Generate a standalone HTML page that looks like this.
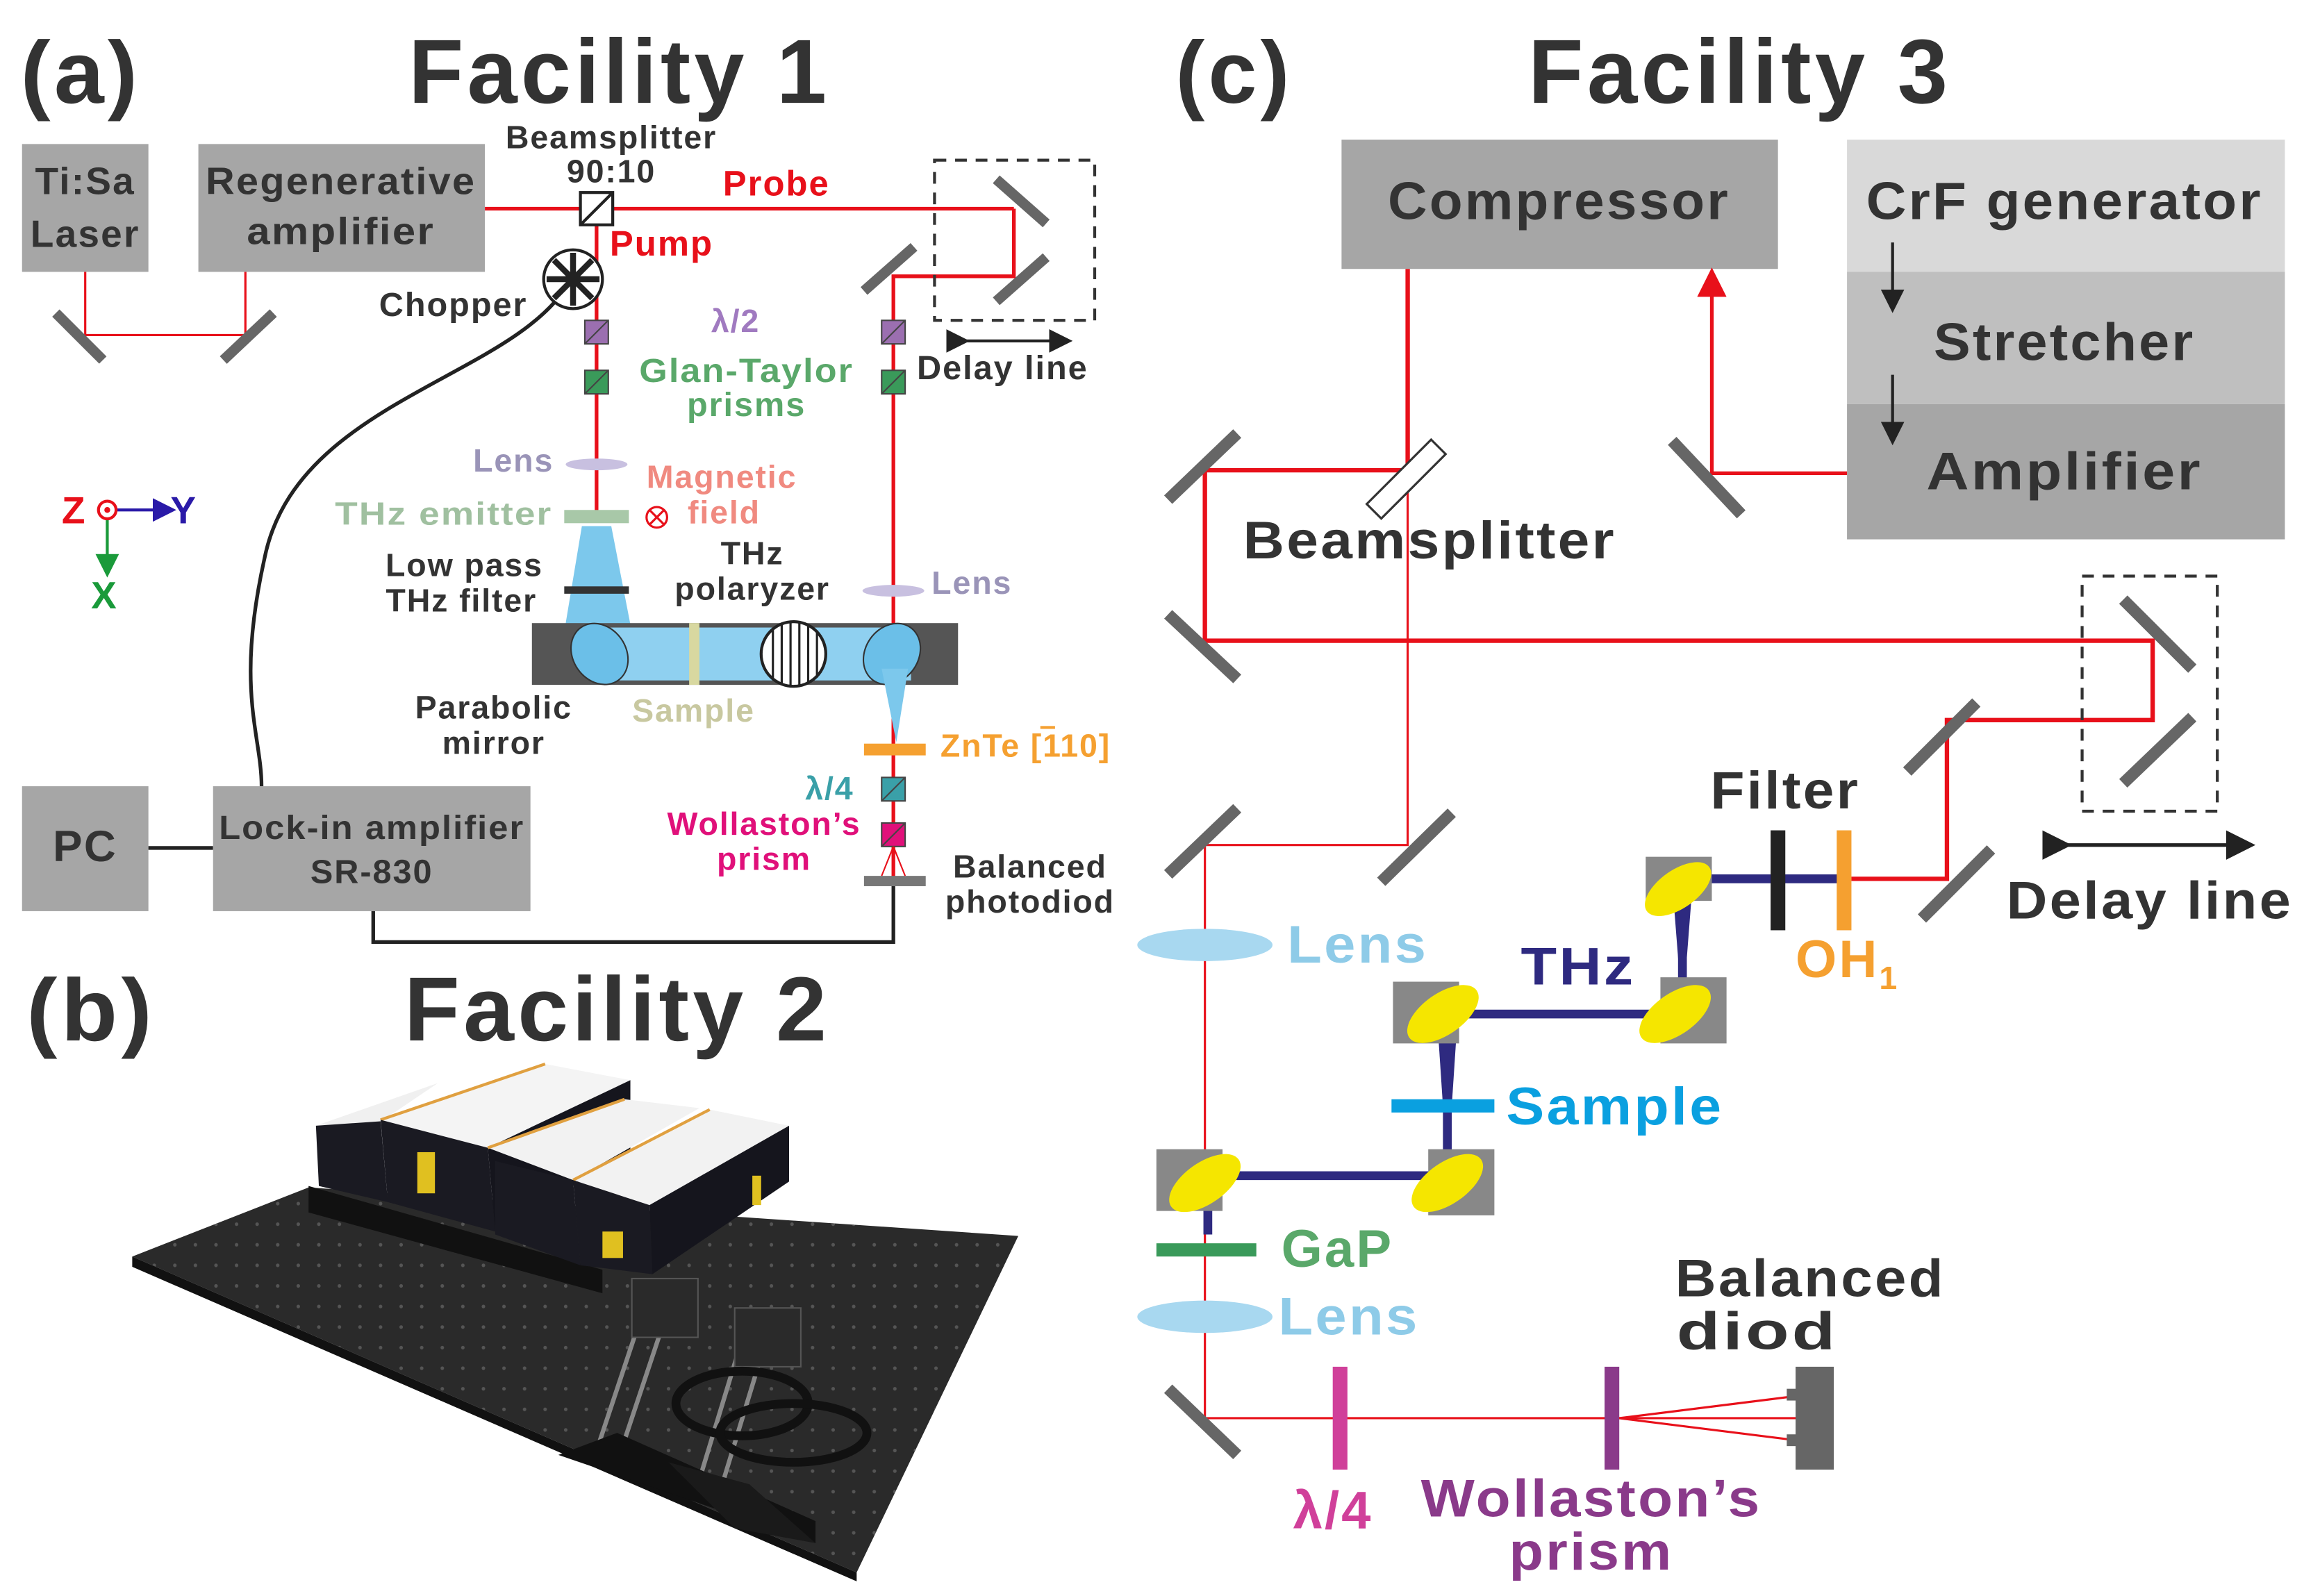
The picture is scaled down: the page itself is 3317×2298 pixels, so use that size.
<!DOCTYPE html>
<html><head><meta charset="utf-8"><style>
html,body{margin:0;padding:0;background:#fff}
svg{display:block}
text{font-family:"Liberation Sans","DejaVu Sans",sans-serif;font-weight:bold;letter-spacing:0.04em}
</style></head><body>
<svg width="3317" height="2298" viewBox="0 0 1568 1086" preserveAspectRatio="none" xmlns="http://www.w3.org/2000/svg">
<rect width="1568" height="1086" fill="#fff"/>
<defs>
<marker id="ar" markerWidth="8" markerHeight="8" refX="4" refY="4" orient="auto"><path d="M0,0 L8,4 L0,8 z" fill="#222"/></marker>
<marker id="arr" markerWidth="8" markerHeight="8" refX="4" refY="4" orient="auto"><path d="M0,0 L8,4 L0,8 z" fill="#e8101a"/></marker>
<marker id="arb" markerWidth="8" markerHeight="8" refX="4" refY="4" orient="auto"><path d="M0,0 L8,4 L0,8 z" fill="#2a1aa8"/></marker>
<marker id="arg" markerWidth="8" markerHeight="8" refX="4" refY="4" orient="auto"><path d="M0,0 L8,4 L0,8 z" fill="#1a9a3a"/></marker>
<pattern id="holes" width="14" height="14" patternUnits="userSpaceOnUse"><circle cx="7" cy="7" r="1.2" fill="#555"/></pattern>
</defs>

<!-- ===== Panel (a) ===== -->
<text x="14" y="70" font-size="60" fill="#333" textLength="82" lengthAdjust="spacingAndGlyphs">(a)</text>
<text x="278" y="70" font-size="62" fill="#333" textLength="287" lengthAdjust="spacingAndGlyphs">Facility 1</text>

<rect x="15" y="98" width="86" height="87" fill="#a6a6a6"/>
<text x="58" y="132" font-size="26" fill="#333" text-anchor="middle">Ti:Sa</text>
<text x="58" y="168" font-size="26" fill="#333" text-anchor="middle">Laser</text>
<rect x="135" y="98" width="195" height="87" fill="#a6a6a6"/>
<text x="232" y="132" font-size="26" fill="#333" text-anchor="middle" textLength="184" lengthAdjust="spacingAndGlyphs">Regenerative</text>
<text x="232" y="166" font-size="26" fill="#333" text-anchor="middle" textLength="128" lengthAdjust="spacingAndGlyphs">amplifier</text>

<polyline points="58,185 58,228 167,228 167,185" fill="none" stroke="#e8101a" stroke-width="1.5"/>
<line x1="38" y1="213" x2="70" y2="245" stroke="#666" stroke-width="7"/>
<line x1="152" y1="245" x2="186" y2="213" stroke="#666" stroke-width="7"/>

<line x1="330" y1="142" x2="690" y2="142" stroke="#e8101a" stroke-width="2.5"/>
<polyline points="690,142 690,188 608,188 608,600" fill="none" stroke="#e8101a" stroke-width="2.5"/>
<line x1="406" y1="142" x2="406" y2="350" stroke="#e8101a" stroke-width="2.5"/>
<rect x="395" y="131" width="22" height="22" fill="#fff" stroke="#222" stroke-width="2"/>
<line x1="395" y1="153" x2="417" y2="131" stroke="#222" stroke-width="2"/>
<text x="416" y="101" font-size="22" fill="#333" text-anchor="middle">Beamsplitter</text>
<text x="416" y="124" font-size="22" fill="#333" text-anchor="middle">90:10</text>
<text x="492" y="133" font-size="24" fill="#e8101a">Probe</text>
<text x="415" y="174" font-size="24" fill="#e8101a">Pump</text>

<rect x="636" y="109" width="109" height="109" fill="none" stroke="#333" stroke-width="2" stroke-dasharray="8,6"/>
<line x1="678" y1="122" x2="712" y2="152" stroke="#666" stroke-width="7"/>
<line x1="678" y1="205" x2="712" y2="175" stroke="#666" stroke-width="7"/>
<line x1="588" y1="198" x2="622" y2="168" stroke="#666" stroke-width="7"/>
<line x1="652" y1="232" x2="722" y2="232" stroke="#222" stroke-width="2" marker-start="url(#ar)" marker-end="url(#ar)"/>
<text x="624" y="258" font-size="23" fill="#333">Delay line</text>

<circle cx="390" cy="190" r="20" fill="#fff" stroke="#222" stroke-width="2"/>
<g stroke="#222" stroke-width="4">
<line x1="390" y1="172" x2="390" y2="208"/><line x1="372" y1="190" x2="408" y2="190"/>
<line x1="377" y1="177" x2="403" y2="203"/><line x1="403" y1="177" x2="377" y2="203"/>
</g>
<text x="258" y="215" font-size="23" fill="#333">Chopper</text>
<path d="M378,205 C330,260 200,280 180,380 C160,470 178,500 178,535" fill="none" stroke="#222" stroke-width="2.5"/>

<rect x="398" y="218" width="16" height="16" fill="#9b6fb0" stroke="#444"/><line x1="398" y1="234" x2="414" y2="218" stroke="#444"/>
<rect x="600" y="218" width="16" height="16" fill="#9b6fb0" stroke="#444"/><line x1="600" y1="234" x2="616" y2="218" stroke="#444"/>
<rect x="398" y="252" width="16" height="16" fill="#3a9a5a" stroke="#444"/><line x1="398" y1="268" x2="414" y2="252" stroke="#444"/>
<rect x="600" y="252" width="16" height="16" fill="#3a9a5a" stroke="#444"/><line x1="600" y1="268" x2="616" y2="252" stroke="#444"/>
<text x="484" y="226" font-size="22" fill="#a07ac0">λ/2</text>
<text x="508" y="260" font-size="23" fill="#5aa86a" text-anchor="middle" textLength="146" lengthAdjust="spacingAndGlyphs">Glan-Taylor</text>
<text x="508" y="283" font-size="23" fill="#5aa86a" text-anchor="middle">prisms</text>

<ellipse cx="406" cy="316" rx="21" ry="4" fill="#c8c0e0"/>
<text x="322" y="321" font-size="22" fill="#9a94b8">Lens</text>
<text x="440" y="332" font-size="22" fill="#f08a80">Magnetic</text>
<text x="468" y="356" font-size="22" fill="#f08a80">field</text>
<circle cx="447" cy="352" r="7" fill="#fff" stroke="#e8101a" stroke-width="1.5"/>
<line x1="442" y1="347" x2="452" y2="357" stroke="#e8101a" stroke-width="1.5"/><line x1="452" y1="347" x2="442" y2="357" stroke="#e8101a" stroke-width="1.5"/>
<rect x="384" y="347" width="44" height="9" fill="#a8c8a8"/>
<text x="228" y="357" font-size="22" fill="#a0c0a0" textLength="148" lengthAdjust="spacingAndGlyphs">THz emitter</text>

<line x1="73" y1="347" x2="112" y2="347" stroke="#2a1aa8" stroke-width="2" marker-end="url(#arb)"/>
<line x1="73" y1="347" x2="73" y2="385" stroke="#1a9a3a" stroke-width="2" marker-end="url(#arg)"/>
<circle cx="73" cy="347" r="6" fill="#fff" stroke="#e8101a" stroke-width="2"/><circle cx="73" cy="347" r="2" fill="#e8101a"/>
<text x="42" y="356" font-size="26" fill="#e8101a">Z</text>
<text x="116" y="356" font-size="26" fill="#2a1aa8">Y</text>
<text x="62" y="414" font-size="26" fill="#1a9a3a">X</text>

<polygon points="396,358 416,358 430,430 384,430" fill="#7cc8ec"/>
<rect x="384" y="399" width="44" height="5" fill="#333"/>
<text x="316" y="392" font-size="22" fill="#333" text-anchor="middle">Low pass</text>
<text x="314" y="416" font-size="22" fill="#333" text-anchor="middle">THz filter</text>
<rect x="362" y="424" width="290" height="42" fill="#555"/>
<rect x="405" y="427" width="215" height="36" fill="#8fd0f0"/>
<ellipse cx="408" cy="445" rx="18" ry="22" transform="rotate(-35 408 445)" fill="#6bbfe8" stroke="#333"/>
<ellipse cx="607" cy="445" rx="18" ry="22" transform="rotate(35 607 445)" fill="#6bbfe8" stroke="#333"/>
<polygon points="600,455 618,455 610,505" fill="#7cc8ec"/>
<rect x="469" y="424" width="7" height="42" fill="#d8d8a0"/>
<circle cx="540" cy="445" r="22" fill="#fff" stroke="#222" stroke-width="2"/>
<g stroke="#222" stroke-width="1.5"><line x1="526" y1="428" x2="526" y2="462"/><line x1="532" y1="424" x2="532" y2="466"/><line x1="538" y1="423" x2="538" y2="467"/><line x1="544" y1="423" x2="544" y2="467"/><line x1="550" y1="425" x2="550" y2="465"/><line x1="556" y1="429" x2="556" y2="461"/></g>
<text x="512" y="384" font-size="22" fill="#333" text-anchor="middle">THz</text>
<text x="512" y="408" font-size="22" fill="#333" text-anchor="middle">polaryzer</text>
<ellipse cx="608" cy="402" rx="21" ry="4" fill="#c8c0e0"/>
<text x="634" y="404" font-size="22" fill="#9a94b8">Lens</text>
<text x="336" y="489" font-size="22" fill="#333" text-anchor="middle">Parabolic</text>
<text x="336" y="513" font-size="22" fill="#333" text-anchor="middle">mirror</text>
<text x="472" y="491" font-size="22" fill="#c8c8a0" text-anchor="middle">Sample</text>

<rect x="588" y="506" width="42" height="8" fill="#f5a030"/>
<text x="640" y="515" font-size="22" fill="#f5a030">ZnTe [110]</text>
<line x1="708" y1="495" x2="718" y2="495" stroke="#f5a030" stroke-width="2"/>
<rect x="600" y="529" width="16" height="16" fill="#3aa0a8" stroke="#444"/><line x1="600" y1="545" x2="616" y2="529" stroke="#444"/>
<text x="548" y="544" font-size="22" fill="#3aa0a8">λ/4</text>
<rect x="600" y="560" width="16" height="16" fill="#e0107a" stroke="#444"/><line x1="600" y1="576" x2="616" y2="560" stroke="#444"/>
<text x="520" y="568" font-size="22" fill="#e0107a" text-anchor="middle">Wollaston’s</text>
<text x="520" y="592" font-size="22" fill="#e0107a" text-anchor="middle">prism</text>
<line x1="608" y1="576" x2="600" y2="596" stroke="#e8101a"/><line x1="608" y1="576" x2="616" y2="596" stroke="#e8101a"/>
<rect x="588" y="596" width="42" height="7" fill="#777"/>
<text x="701" y="597" font-size="22" fill="#333" text-anchor="middle">Balanced</text>
<text x="701" y="621" font-size="22" fill="#333" text-anchor="middle">photodiod</text>
<polyline points="608,603 608,641 254,641 254,620" fill="none" stroke="#222" stroke-width="2.5"/>

<rect x="15" y="535" width="86" height="85" fill="#a6a6a6"/>
<text x="58" y="586" font-size="30" fill="#333" text-anchor="middle">PC</text>
<line x1="101" y1="577" x2="145" y2="577" stroke="#222" stroke-width="2.5"/>
<rect x="145" y="535" width="216" height="85" fill="#a6a6a6"/>
<text x="253" y="571" font-size="23" fill="#333" text-anchor="middle" textLength="208" lengthAdjust="spacingAndGlyphs">Lock-in amplifier</text>
<text x="253" y="601" font-size="23" fill="#333" text-anchor="middle">SR-830</text>

<!-- ===== Panel (b) ===== -->
<text x="18" y="708" font-size="60" fill="#333" textLength="88" lengthAdjust="spacingAndGlyphs">(b)</text>
<text x="275" y="708" font-size="62" fill="#333" textLength="290" lengthAdjust="spacingAndGlyphs">Facility 2</text>
<polygon points="90,855 210,808 693,841 583,1070" fill="#2a2a2a"/>
<polygon points="90,855 210,808 693,841 583,1070" fill="url(#holes)"/>
<polygon points="90,855 583,1070 583,1076 90,862" fill="#111"/>
<polygon points="210,807 410,864 410,880 210,825" fill="#111"/>
<!-- box1 -->
<polygon points="215,766 298,737 264,760 259,763" fill="#f0f0f0"/>
<polygon points="215,766 259,763 264,818 217,807" fill="#1a1a22"/>
<!-- box2 -->
<polygon points="259,762 371,724 429,735 332,781" fill="#f4f4f4"/>
<line x1="259" y1="762" x2="371" y2="724" stroke="#e0a040" stroke-width="2"/>
<polygon points="259,762 332,781 337,838 264,818" fill="#1a1a22"/>
<polygon points="332,781 429,735 429,784 337,838" fill="#15151d"/>
<rect x="284" y="784" width="12" height="28" fill="#e0c020"/>
<!-- box3 -->
<polygon points="332,781 425,748 476,754 390,803" fill="#f2f2f2"/>
<line x1="332" y1="781" x2="425" y2="748" stroke="#e0a040" stroke-width="2"/>
<polygon points="337,790 390,803 395,861 337,840" fill="#1a1a22"/>
<!-- box4 -->
<polygon points="390,803 483,755 537,766 442,820" fill="#f2f2f2"/>
<line x1="390" y1="803" x2="483" y2="755" stroke="#e0a040" stroke-width="2"/>
<polygon points="390,803 442,820 444,867 395,861" fill="#1a1a22"/>
<polygon points="442,820 537,766 537,804 444,867" fill="#15151d"/>
<rect x="410" y="838" width="14" height="18" fill="#e0c020"/>
<rect x="512" y="800" width="6" height="20" fill="#e0c020"/>
<!-- optics -->
<g stroke="#888" stroke-width="3">
<line x1="405" y1="990" x2="445" y2="870"/><line x1="420" y1="995" x2="460" y2="875"/>
<line x1="475" y1="1010" x2="510" y2="895"/><line x1="490" y1="1015" x2="525" y2="900"/>
</g>
<rect x="430" y="870" width="45" height="40" fill="#2a2a2a" stroke="#555"/>
<rect x="500" y="890" width="45" height="40" fill="#2a2a2a" stroke="#555"/>
<ellipse cx="505" cy="955" rx="45" ry="22" fill="none" stroke="#111" stroke-width="6"/>
<ellipse cx="540" cy="975" rx="50" ry="20" fill="none" stroke="#111" stroke-width="6"/>
<polygon points="380,990 420,975 555,1035 555,1050" fill="#111"/>
<polygon points="455,995 510,1010 555,1050 500,1040" fill="#1a1a1a"/>

<!-- ===== Panel (c) ===== -->
<text x="800" y="70" font-size="60" fill="#333" textLength="80" lengthAdjust="spacingAndGlyphs">(c)</text>
<text x="1040" y="70" font-size="62" fill="#333" textLength="288" lengthAdjust="spacingAndGlyphs">Facility 3</text>

<rect x="913" y="95" width="297" height="88" fill="#a6a6a6"/>
<text x="1061" y="149" font-size="36" fill="#333" text-anchor="middle" textLength="233" lengthAdjust="spacingAndGlyphs">Compressor</text>
<rect x="1257" y="95" width="298" height="90" fill="#d9d9d9"/>
<rect x="1257" y="185" width="298" height="90" fill="#bfbfbf"/>
<rect x="1257" y="275" width="298" height="92" fill="#a6a6a6"/>
<text x="1405" y="149" font-size="36" fill="#333" text-anchor="middle" textLength="270" lengthAdjust="spacingAndGlyphs">CrF generator</text>
<text x="1405" y="245" font-size="36" fill="#333" text-anchor="middle" textLength="178" lengthAdjust="spacingAndGlyphs">Stretcher</text>
<text x="1405" y="333" font-size="36" fill="#333" text-anchor="middle" textLength="188" lengthAdjust="spacingAndGlyphs">Amplifier</text>
<line x1="1288" y1="165" x2="1288" y2="205" stroke="#222" stroke-width="2" marker-end="url(#ar)"/>
<line x1="1288" y1="255" x2="1288" y2="295" stroke="#222" stroke-width="2" marker-end="url(#ar)"/>

<polyline points="1257,322 1165,322 1165,192" fill="none" stroke="#e8101a" stroke-width="2.5" marker-end="url(#arr)"/>
<line x1="1138" y1="300" x2="1185" y2="350" stroke="#666" stroke-width="8"/>

<polyline points="958,183 958,320 820,320 820,436 1465,436 1465,490 1325,490 1325,598 1260,598" fill="none" stroke="#e8101a" stroke-width="3"/>
<line x1="795" y1="340" x2="842" y2="295" stroke="#666" stroke-width="8"/>
<line x1="795" y1="418" x2="842" y2="462" stroke="#666" stroke-width="8"/>
<rect x="1417" y="392" width="92" height="160" fill="none" stroke="#333" stroke-width="2" stroke-dasharray="8,6"/>
<line x1="1445" y1="408" x2="1492" y2="455" stroke="#666" stroke-width="8"/>
<line x1="1445" y1="533" x2="1492" y2="488" stroke="#666" stroke-width="8"/>
<line x1="1298" y1="525" x2="1345" y2="478" stroke="#666" stroke-width="8"/>
<line x1="1308" y1="625" x2="1355" y2="578" stroke="#666" stroke-width="8"/>
<line x1="1400" y1="575" x2="1525" y2="575" stroke="#222" stroke-width="2.5" marker-start="url(#ar)" marker-end="url(#ar)"/>
<text x="1463" y="625" font-size="36" fill="#333" text-anchor="middle" textLength="195" lengthAdjust="spacingAndGlyphs">Delay line</text>

<polyline points="958,330 958,575 820,575 820,965 1225,965" fill="none" stroke="#e8101a" stroke-width="1.5"/>
<rect x="950" y="295" width="14" height="62" fill="#fff" stroke="#333" stroke-width="1.5" transform="rotate(45 957 326)"/>
<text x="846" y="380" font-size="36" fill="#333" textLength="254" lengthAdjust="spacingAndGlyphs">Beamsplitter</text>
<line x1="795" y1="595" x2="842" y2="550" stroke="#666" stroke-width="8"/>
<line x1="940" y1="600" x2="988" y2="553" stroke="#666" stroke-width="8"/>
<line x1="795" y1="945" x2="842" y2="990" stroke="#666" stroke-width="8"/>

<polyline points="1255,598 1145,598 1145,690 985,690 985,800 822,800 822,840" fill="none" stroke="#2e2a80" stroke-width="6"/>
<polygon points="1138,600 1152,600 1145,690" fill="#2e2a80"/>
<polygon points="978,692 992,692 985,798" fill="#2e2a80"/>
<polygon points="815,802 829,802 822,840" fill="#2e2a80"/>
<g>
<rect x="1120" y="583" width="45" height="30" fill="#888"/><ellipse cx="1142" cy="605" rx="26" ry="13" transform="rotate(-35 1142 605)" fill="#f5e600"/>
<rect x="1130" y="665" width="45" height="45" fill="#888"/><ellipse cx="1140" cy="690" rx="28" ry="14" transform="rotate(-35 1140 690)" fill="#f5e600"/>
<rect x="948" y="668" width="45" height="42" fill="#888"/><ellipse cx="982" cy="690" rx="28" ry="14" transform="rotate(-35 982 690)" fill="#f5e600"/>
<rect x="972" y="782" width="45" height="45" fill="#888"/><ellipse cx="985" cy="805" rx="28" ry="14" transform="rotate(-35 985 805)" fill="#f5e600"/>
<rect x="787" y="782" width="45" height="42" fill="#888"/><ellipse cx="820" cy="805" rx="28" ry="14" transform="rotate(-35 820 805)" fill="#f5e600"/>
</g>
<rect x="1205" y="565" width="10" height="68" fill="#222"/>
<rect x="1250" y="565" width="10" height="68" fill="#f5a030"/>
<text x="1215" y="550" font-size="36" fill="#333" text-anchor="middle" textLength="102" lengthAdjust="spacingAndGlyphs">Filter</text>
<text x="1222" y="665" font-size="36" fill="#f5a030">OH<tspan font-size="22" dy="8">1</tspan></text>
<text x="1035" y="670" font-size="36" fill="#2e2a80" textLength="78" lengthAdjust="spacingAndGlyphs">THz</text>
<rect x="947" y="748" width="70" height="9" fill="#0aa0e0"/>
<text x="1025" y="765" font-size="36" fill="#0aa0e0" textLength="148" lengthAdjust="spacingAndGlyphs">Sample</text>
<rect x="787" y="846" width="68" height="9" fill="#3a9a5a"/>
<text x="872" y="862" font-size="36" fill="#5aa86a">GaP</text>
<ellipse cx="820" cy="643" rx="46" ry="11" fill="#a8d8f0"/>
<text x="876" y="655" font-size="36" fill="#8ecbe8" textLength="96" lengthAdjust="spacingAndGlyphs">Lens</text>
<ellipse cx="820" cy="896" rx="46" ry="11" fill="#a8d8f0"/>
<text x="870" y="908" font-size="36" fill="#8ecbe8" textLength="96" lengthAdjust="spacingAndGlyphs">Lens</text>

<rect x="907" y="930" width="10" height="70" fill="#d0409a"/>
<text x="880" y="1040" font-size="36" fill="#d0409a">λ/4</text>
<rect x="1092" y="930" width="10" height="70" fill="#8a3a8a"/>
<text x="1083" y="1032" font-size="36" fill="#8a3a8a" text-anchor="middle" textLength="232" lengthAdjust="spacingAndGlyphs">Wollaston’s</text>
<text x="1083" y="1068" font-size="36" fill="#8a3a8a" text-anchor="middle" textLength="112" lengthAdjust="spacingAndGlyphs">prism</text>
<line x1="1102" y1="965" x2="1222" y2="950" stroke="#e8101a" stroke-width="1.5"/>
<line x1="1102" y1="965" x2="1222" y2="980" stroke="#e8101a" stroke-width="1.5"/>
<rect x="1222" y="930" width="26" height="70" fill="#666"/>
<rect x="1216" y="945" width="8" height="8" fill="#666"/><rect x="1216" y="976" width="8" height="8" fill="#666"/>
<text x="1232" y="882" font-size="36" fill="#333" text-anchor="middle" textLength="184" lengthAdjust="spacingAndGlyphs">Balanced</text>
<text x="1196" y="918" font-size="36" fill="#333" text-anchor="middle" textLength="110" lengthAdjust="spacingAndGlyphs">diod</text>
</svg>
</body></html>
